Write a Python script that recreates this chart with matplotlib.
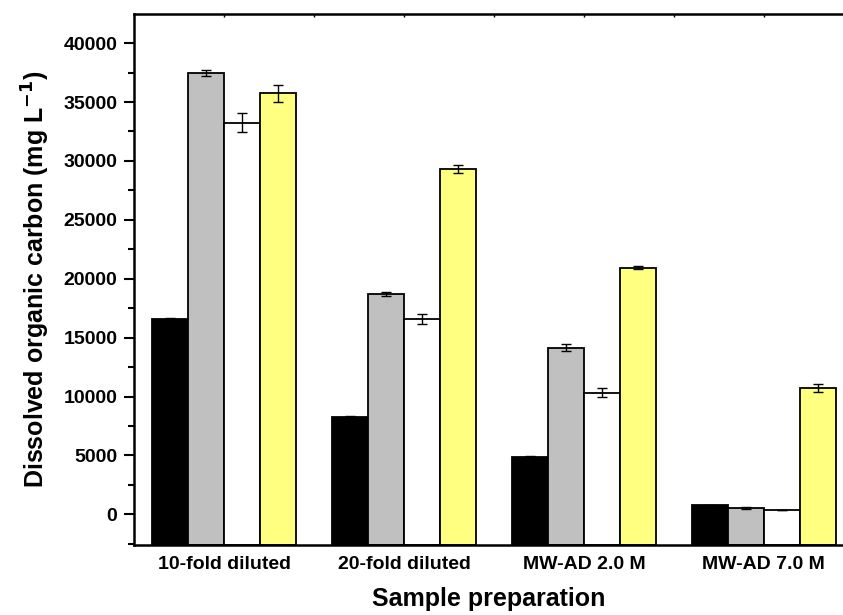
import numpy as np
import matplotlib
matplotlib.use("Agg")
import matplotlib.pyplot as plt

# --- dane ---
categories = ["10-fold diluted", "20-fold diluted", "MW-AD 2.0 M", "MW-AD 7.0 M"]
black_vals = [16550, 8260, 4860, 760]
black_err = [120, 100, 80, 40]
gray_vals = [37480, 18700, 14150, 560]
gray_err = [250, 150, 300, 80]
white_vals = [33240, 16600, 10320, 365]
white_err = [820, 450, 370, 30]
yellow_vals = [35740, 29300, 20950, 10750]
yellow_err = [700, 350, 100, 340]

series = [
    (black_vals, black_err, "black"),
    (gray_vals, gray_err, "#c0c0c0"),
    (white_vals, white_err, "white"),
    (yellow_vals, yellow_err, "#ffff80"),
]

Y_MIN, Y_MAX = -2600, 42470

plt.rcParams["font.family"] = ["Liberation Sans", "DejaVu Sans"]
plt.rcParams["font.weight"] = "bold"
plt.rcParams["mathtext.default"] = "bf"

fig = plt.figure(figsize=(8.43, 6.15), dpi=100)
ax = fig.add_axes([0.159, 0.1138, 0.841, 0.8634])

x = np.arange(1, len(categories) + 1)
width = 0.2
for i, (vals, err, color) in enumerate(series):
    pos = x + (i - 1.5) * width
    # slupki zaczynaja sie od dolnej krawedzi osi (jak w oryginale)
    heights = np.array(vals) - Y_MIN
    ax.bar(pos, heights, bottom=Y_MIN, width=width, color=color,
           edgecolor="black", linewidth=1.3, zorder=2)
    ax.errorbar(pos, vals, yerr=err, fmt="none", ecolor="black", elinewidth=1,
                capsize=3.5, capthick=1, zorder=3)

ax.set_xlim(0.5, 4.44)
ax.set_ylim(Y_MIN, Y_MAX)
ax.set_yticks(np.arange(0, 40001, 5000))
ax.set_yticks(np.arange(-2500, 42500, 2500), minor=True)
ax.set_xticks(x)
ax.set_xticklabels(categories, fontsize=14, fontweight="bold")
ax.set_xticks([1.5, 2.5, 3.5], minor=True)
for lab in ax.get_yticklabels():
    lab.set_fontsize(14)
    lab.set_fontweight("bold")

ax.tick_params(axis="y", which="major", direction="out", length=7, width=1.5, pad=5)
ax.tick_params(axis="y", which="minor", direction="out", length=4, width=1.5)
ax.tick_params(axis="x", which="both", bottom=False, top=True, direction="in",
               length=2, width=1, pad=8)

ax.spines["right"].set_visible(False)
for s in ["left", "bottom", "top"]:
    ax.spines[s].set_linewidth(1.8)

ax.set_xlabel("Sample preparation", fontsize=18, fontweight="bold", labelpad=10)
ax.set_ylabel("Dissolved organic carbon (mg L$^{-1}$)", fontsize=18,
              fontweight="bold", labelpad=8)

fig.savefig("out.png", dpi=100)
